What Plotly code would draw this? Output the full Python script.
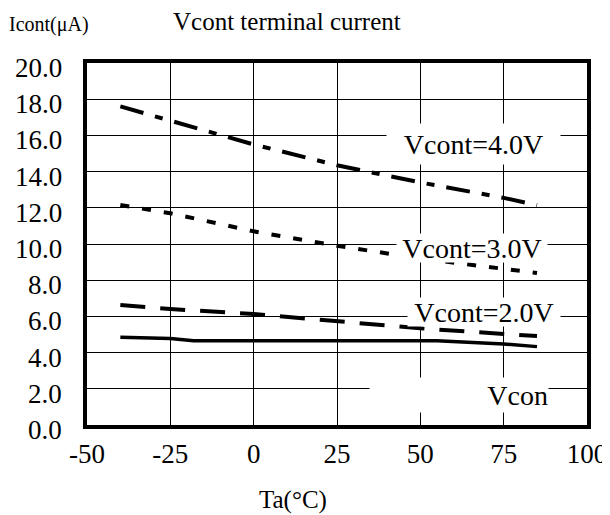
import plotly.graph_objects as go

temps = [-40, -25, 0, 25, 50, 75, 85]
i_40 = [17.6, 16.8, 15.5, 14.35, 13.4, 12.55, 12.15]
i_30 = [12.15, 11.7, 10.7, 9.9, 9.2, 8.65, 8.4]
i_20 = [6.63, 6.41, 6.13, 5.71, 5.34, 5.03, 4.92]
temps_10 = [-40, -25, -18, 0, 25, 55, 75, 85]
i_10 = [4.85, 4.78, 4.65, 4.65, 4.65, 4.65, 4.48, 4.33]

x_ticks = [-50, -25, 0, 25, 50, 75, 100]
x_ticklabels = [str(v) for v in x_ticks]
y_ticks = [0, 2, 4, 6, 8, 10, 12, 14, 16, 18, 20]
y_ticklabels = [f"{v:.1f}" for v in y_ticks]

labels = ["Vcont=4.0V", "Vcont=3.0V", "Vcont=2.0V", "Vcon"]
label_x = [66.0, 65.5, 69.1, 61.6]
label_y = [15.5, 9.8, 6.22, 1.66]

FONT = "Liberation Serif, Times New Roman, serif"

OFF = 8  # page body margin
W, H = 610 - OFF, 515 - OFF
L, T = 87 - OFF, 63 - OFF
pw, ph = 500, 362
R, B = W - L - pw, H - T - ph


def px(xp):
    return (xp - OFF - L) / pw


def py(yp):
    return (H - B - (yp - OFF)) / ph


fig = go.Figure()
fig.add_trace(go.Scatter(x=temps, y=i_40, mode="lines",
                         line=dict(color="black", width=4, dash="24px,12px,8px,12px")))
fig.add_trace(go.Scatter(x=temps, y=i_30, mode="lines",
                         line=dict(color="black", width=4, dash="9px,13px")))
fig.add_trace(go.Scatter(x=temps, y=i_20, mode="lines",
                         line=dict(color="black", width=4, dash="25px,15px")))
fig.add_trace(go.Scatter(x=temps_10, y=i_10, mode="lines",
                         line=dict(color="black", width=3.5)))

widths = [173, 150, 152, 178]
heights = [40, 28, 28, 34]
aligns = ["center", "center", "center", "right"]
for t, x, y, w, h, a in zip(labels, label_x, label_y, widths, heights, aligns):
    fig.add_annotation(x=x, y=y, xref="x", yref="y", text=t, showarrow=False,
                       font=dict(family=FONT, size=28, color="black"),
                       bgcolor="white", width=w, height=h, align=a,
                       xanchor="center", yanchor="middle", borderpad=0)

# y tick labels (sit slightly below their grid lines, as in the reference)
for v, t in zip(y_ticks, y_ticklabels):
    fig.add_annotation(x=px(64), y=v, xref="paper", yref="y", text=t,
                       showarrow=False, xanchor="right", yanchor="middle",
                       yshift=-5, font=dict(family=FONT, size=27, color="black"))

fig.add_annotation(x=px(287), y=py(22), xref="paper", yref="paper",
                   text="Vcont terminal current", showarrow=False,
                   xanchor="center", yanchor="middle",
                   font=dict(family=FONT, size=25, color="black"))
fig.add_annotation(x=px(49), y=py(25), xref="paper", yref="paper",
                   text="Icont(μA)", showarrow=False,
                   xanchor="center", yanchor="middle",
                   font=dict(family=FONT, size=20, color="black"))
fig.add_annotation(x=px(293), y=py(500), xref="paper", yref="paper",
                   text="Ta(°C)", showarrow=False,
                   xanchor="center", yanchor="middle",
                   font=dict(family=FONT, size=25, color="black"))

fig.update_layout(
    width=W, height=H,
    margin=dict(l=L, r=R, t=T, b=B, autoexpand=False),
    paper_bgcolor="white", plot_bgcolor="white",
    showlegend=False,
    font=dict(family=FONT, size=27, color="black"),
)
fig.update_xaxes(range=[-50, 100], tickvals=x_ticks, ticktext=x_ticklabels, ticks="",
                 showgrid=True, automargin=False,
                 gridcolor="black", gridwidth=1, showline=True, linecolor="black",
                 linewidth=4, mirror=True, zeroline=False, ticklabelstandoff=2,
                 tickfont=dict(family=FONT, size=27, color="black"))
fig.update_yaxes(range=[0, 20], tickvals=y_ticks, showticklabels=False, ticks="",
                 showgrid=True, automargin=False, gridcolor="black", gridwidth=1,
                 showline=True, linecolor="black", linewidth=4, mirror=True,
                 zeroline=False)

fig.write_html("out.html")
